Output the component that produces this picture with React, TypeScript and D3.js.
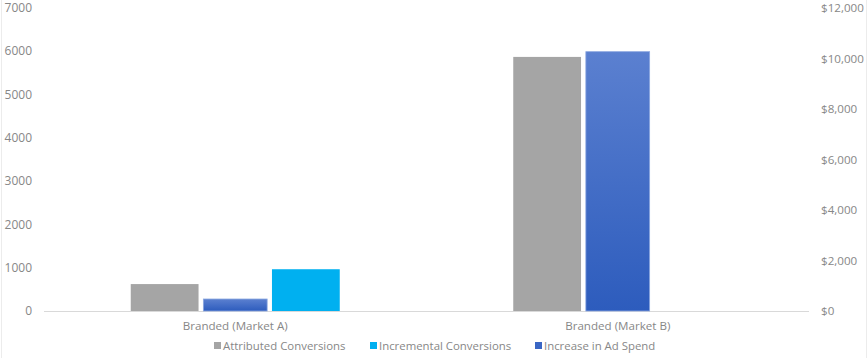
import React from 'react';
import * as d3 from 'd3';

const categories = ['Branded (Market A)', 'Branded (Market B)'];
const attributedConversions = [622, 5870];
const incrementalConversions: (number | null)[] = [965, null];
const adSpendIncrease = [475, 10270];

const leftTicks = [0, 1000, 2000, 3000, 4000, 5000, 6000, 7000];
const rightTicks = [0, 2000, 4000, 6000, 8000, 10000, 12000];

const seriesNames = ['Attributed Conversions', 'Incremental Conversions', 'Increase in Ad Spend'];
const slotOrder = ['attributed', 'spend', 'incremental'];

const W = 868;
const H = 358;
const plot = { left: 44, right: 809, top: 8, bottom: 311 };
const textColor = '#878787';
const font = "'Open Sans', sans-serif";

export default function App() {
  const x = d3.scaleBand<string>().domain(categories).range([plot.left, plot.right]);
  const yLeft = d3.scaleLinear().domain([0, 7000]).range([plot.bottom, plot.top]);
  const yRight = d3.scaleLinear().domain([0, 12000]).range([plot.bottom, plot.top]);
  const groupWidth = 209;

  // three slots per category: gray, ad spend (secondary axis), cyan
  const inner = (cat: string) => {
    const c = (x(cat) || 0) + x.bandwidth() / 2;
    return d3.scaleBand<string>().domain(slotOrder).range([c - groupWidth / 2, c + groupWidth / 2]).paddingInner(0.04);
  };

  const legendItems = [
    { name: seriesNames[0], color: '#a5a5a5', x: 214 },
    { name: seriesNames[1], color: '#00b0f0', x: 370 },
    { name: seriesNames[2], color: '#3a66c4', x: 535 },
  ];

  return (
    <svg width={W} height={H} style={{ position: 'absolute', left: 0, top: 0, background: '#fff' }} fontFamily={font}>
      <defs>
        <linearGradient id="spendGrad" x1="0" y1="0" x2="0" y2="1">
          <stop offset="0%" stopColor="#5b80d0" />
          <stop offset="100%" stopColor="#2d5cbd" />
        </linearGradient>
      </defs>

      {/* frame edges */}
      <line x1={1.5} x2={1.5} y1={0} y2={H} stroke="#ececec" strokeWidth={1} />
      <line x1={866.5} x2={866.5} y1={0} y2={H} stroke="#ececec" strokeWidth={1} />

      {/* baseline */}
      <line x1={plot.left} x2={plot.right} y1={yLeft(0) + 0.5} y2={yLeft(0) + 0.5} stroke="#d9d9d9" />

      {leftTicks.map(t => (
        <text key={t} x={32} y={yLeft(t)} dy="0.35em" textAnchor="end" fontSize={12} fill={textColor}>
          {t}
        </text>
      ))}
      {rightTicks.map(t => (
        <text key={t} x={821} y={yRight(t)} dy="0.35em" textAnchor="start" fontSize={11.6} fill={textColor}>
          {d3.format('$,')(t)}
        </text>
      ))}

      {categories.map((cat, i) => {
        const s = inner(cat);
        const bw = s.bandwidth();
        const inc = incrementalConversions[i];
        return (
          <g key={cat}>
            <rect
              x={s('attributed')}
              y={yLeft(attributedConversions[i])}
              width={bw}
              height={yLeft(0) - yLeft(attributedConversions[i])}
              fill="#a5a5a5"
            />
            <rect
              x={(s('spend') || 0) + 2}
              y={yRight(adSpendIncrease[i])}
              width={bw - 4}
              height={yRight(0) - yRight(adSpendIncrease[i])}
              fill="url(#spendGrad)"
              stroke="#8aa6e0"
              strokeWidth={0.8}
            />
            {inc != null && (
              <rect
                x={s('incremental')}
                y={yLeft(inc)}
                width={bw}
                height={yLeft(0) - yLeft(inc)}
                fill="#00b0f0"
              />
            )}
            <text
              x={(x(cat) || 0) + x.bandwidth() / 2}
              y={326}
              dy="0.35em"
              textAnchor="middle"
              fontSize={11.6}
              fill={textColor}
            >
              {cat}
            </text>
          </g>
        );
      })}

      {legendItems.map(item => (
        <g key={item.name}>
          <rect x={item.x} y={342} width={7} height={7} fill={item.color} />
          <text x={item.x + 9} y={346} dy="0.35em" fontSize={11.4} fill={textColor}>
            {item.name}
          </text>
        </g>
      ))}
    </svg>
  );
}
